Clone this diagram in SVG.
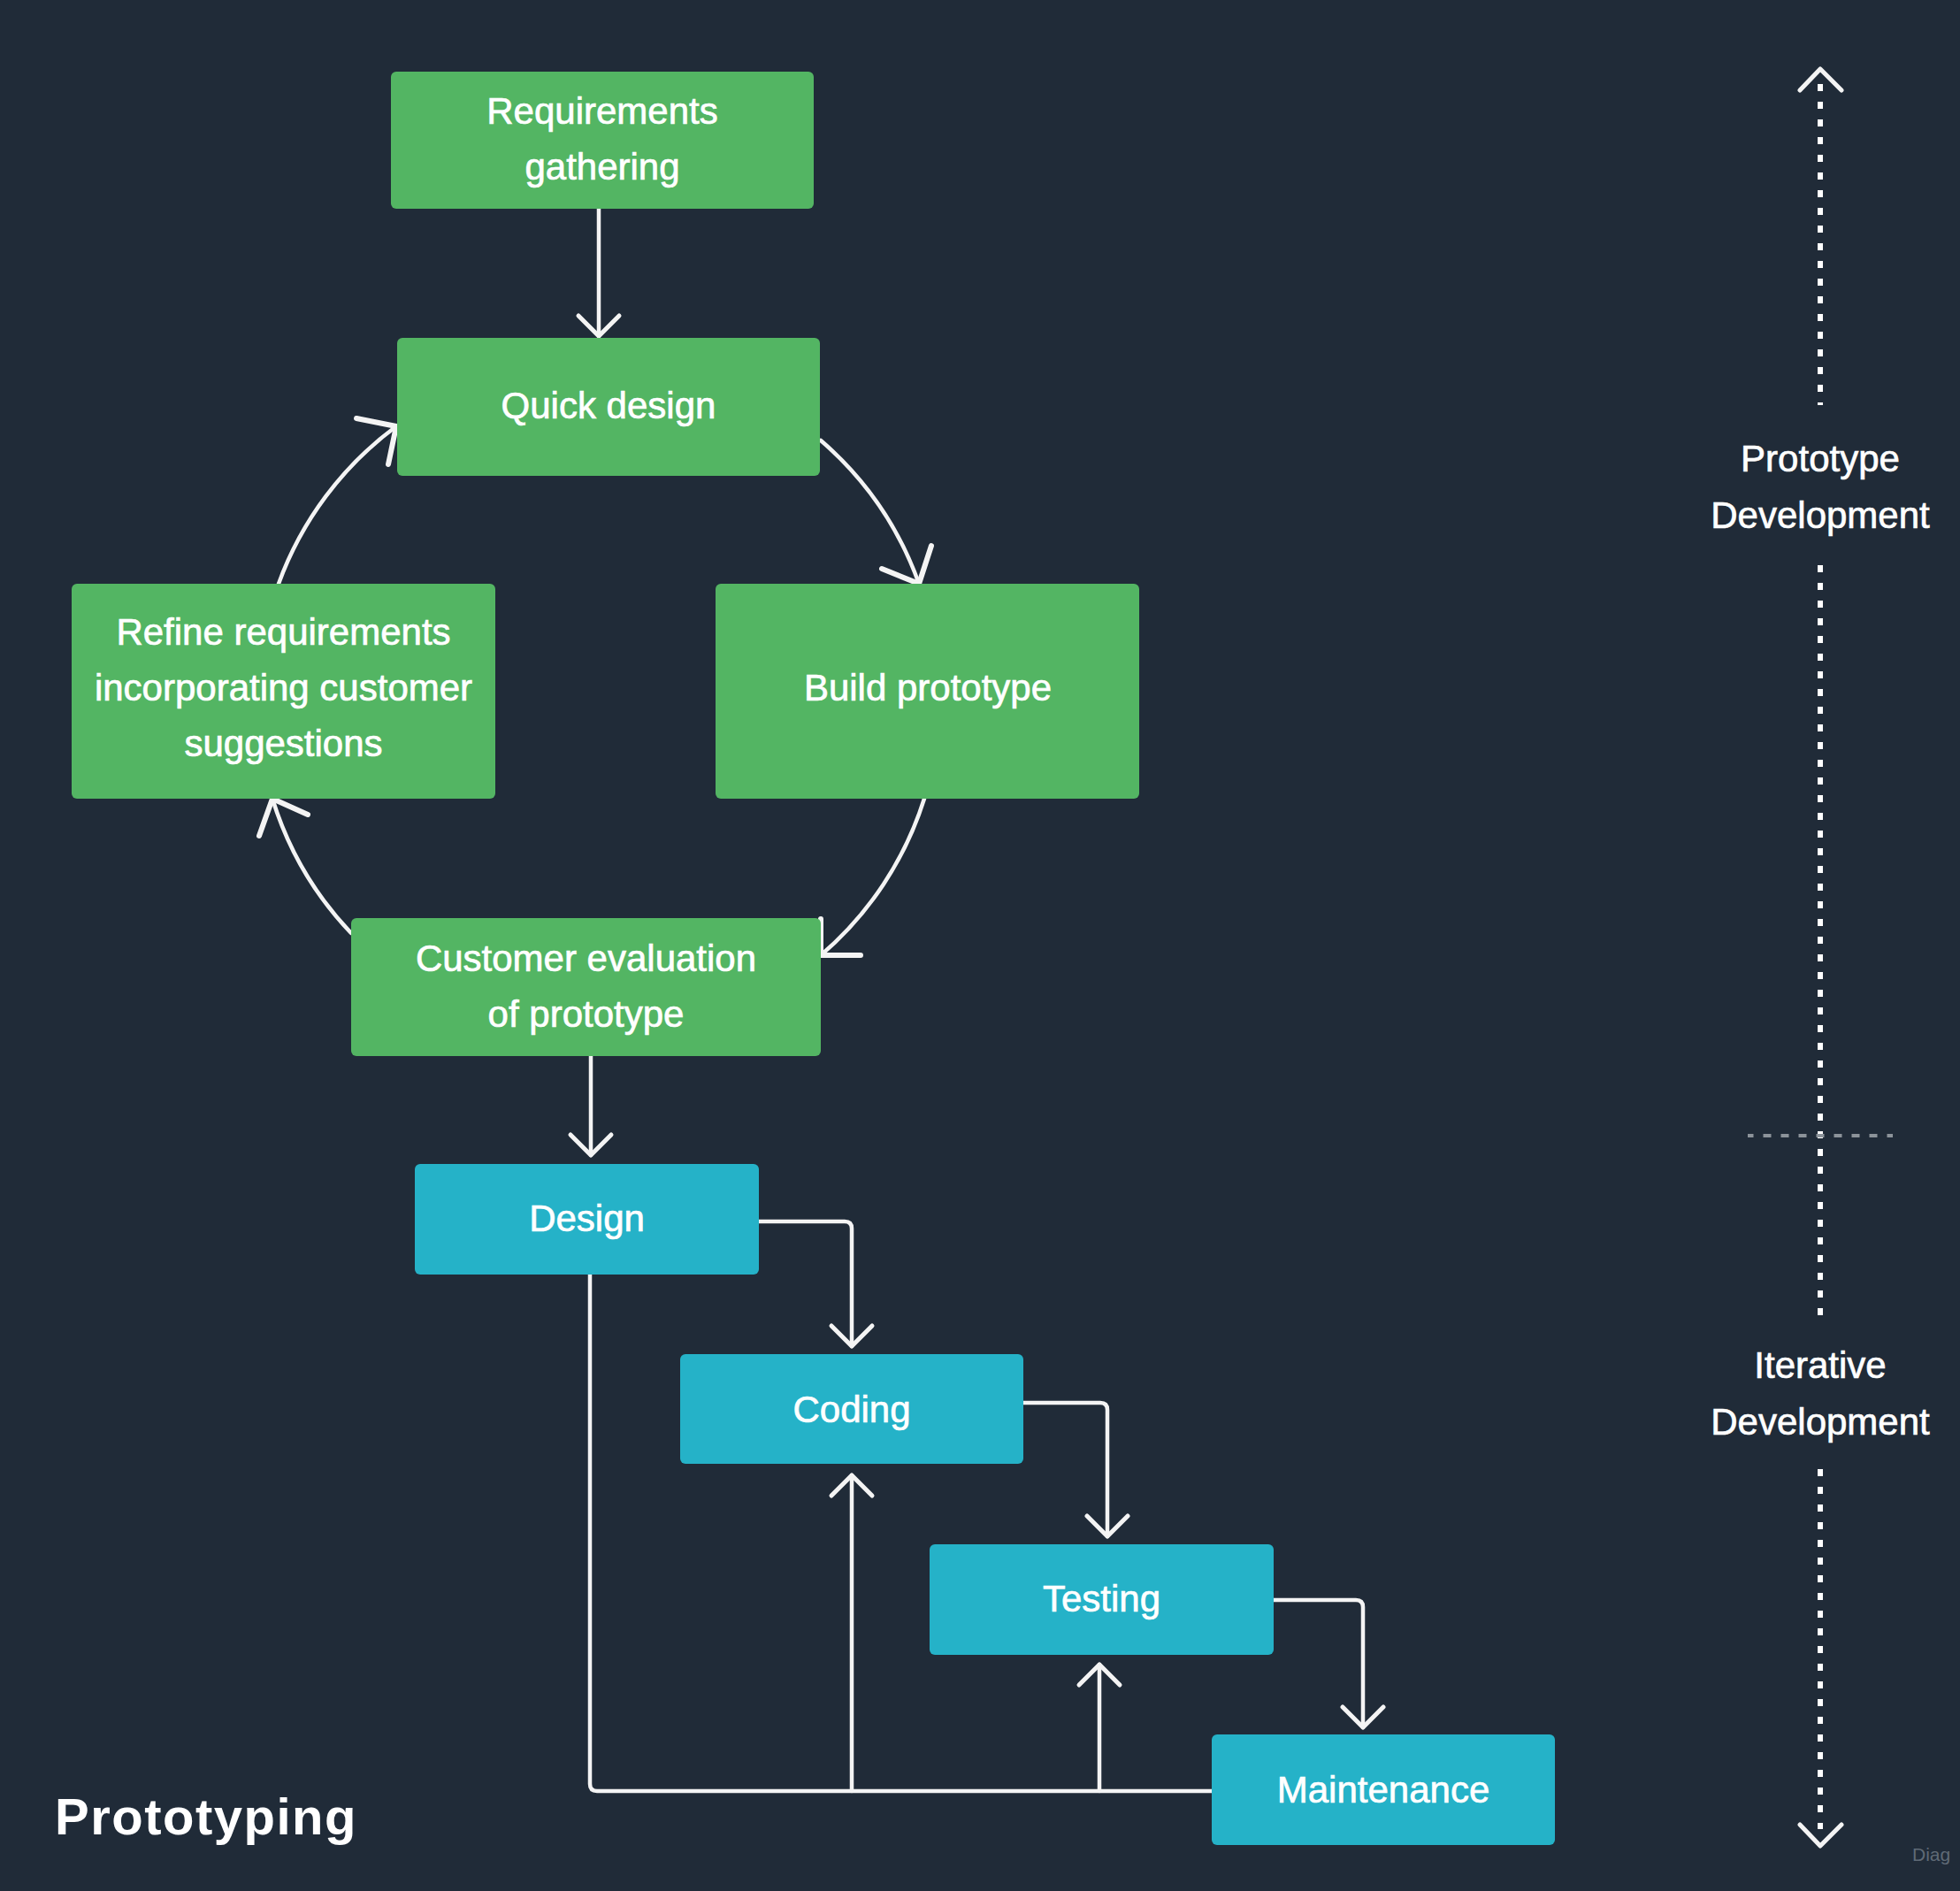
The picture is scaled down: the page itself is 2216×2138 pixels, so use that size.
<svg xmlns="http://www.w3.org/2000/svg" width="2216" height="2138" viewBox="0 0 2216 2138">
<style>
.bg{fill:#202b38}
.g{fill:#53b563}
.t{fill:#25b2c8}
.lbl{font-family:"Liberation Sans",Arial,sans-serif;font-size:42px;fill:#ffffff;stroke:#ffffff;stroke-width:0.7px;text-anchor:middle}
.ln{fill:none;stroke:#f4f4f4;stroke-width:4.5;stroke-linecap:round;stroke-linejoin:round}
.ah{fill:none;stroke:#f4f4f4;stroke-width:6;stroke-linecap:round;stroke-linejoin:round}
.dot{fill:none;stroke:#ffffff;stroke-width:6;stroke-dasharray:8 12}
.dash{fill:none;stroke:#8c939a;stroke-width:4;stroke-dasharray:9 11;stroke-dashoffset:2.5}
</style>
<defs>
<marker id="arr" markerUnits="userSpaceOnUse" markerWidth="60" markerHeight="60" viewBox="-30 -30 60 60" refX="0" refY="0" orient="auto" overflow="visible">
<path d="M -23 -23 L 0 0 L -23 23" fill="none" stroke="#f4f4f4" stroke-width="5" stroke-linecap="round" stroke-linejoin="round"/>
</marker>
</defs>
<rect class="bg" x="0" y="0" width="2216" height="2138"/>

<g id="connectors">
<path class="ln" d="M 677 236 V 380" marker-end="url(#arr)"/>
<path class="ln" d="M 928 498 A 385 385 0 0 1 1039 660"/>
<polyline class="ah" points="997,643 1039,660 1053,617"/>
<path class="ln" d="M 1045 903 A 385 385 0 0 1 928 1080"/>
<polyline class="ah" points="928,1039 928,1080 973,1080"/>
<path class="ln" d="M 397 1055 A 385 385 0 0 1 308 903"/>
<polyline class="ah" points="293,945 308,903 348,921"/>
<path class="ln" d="M 315 660 A 385 385 0 0 1 448 482"/>
<polyline class="ah" points="403,473 448,482 439,525"/>
<path class="ln" d="M 668 1194 V 1306" marker-end="url(#arr)"/>
<path class="ln" d="M 858 1381 H 955 Q 963 1381 963 1389 V 1522" marker-end="url(#arr)"/>
<path class="ln" d="M 1157 1586 H 1244 Q 1252 1586 1252 1594 V 1737" marker-end="url(#arr)"/>
<path class="ln" d="M 1440 1809 H 1533 Q 1541 1809 1541 1817 V 1953" marker-end="url(#arr)"/>
<path class="ln" d="M 1370 2025 H 675 Q 667 2025 667 2017 V 1441"/>
<path class="ln" d="M 963 2025 V 1668" marker-end="url(#arr)"/>
<path class="ln" d="M 1243 2025 V 1882" marker-end="url(#arr)"/>
</g>

<g id="node-requirements">
<rect class="g" x="442" y="81" width="478" height="155" rx="6"/>
<text class="lbl" x="681" y="140">Requirements</text>
<text class="lbl" x="681" y="203">gathering</text>
</g>
<g id="node-quick-design">
<rect class="g" x="449" y="382" width="478" height="156" rx="6"/>
<text class="lbl" x="688" y="473">Quick design</text>
</g>
<g id="node-refine">
<rect class="g" x="81" y="660" width="479" height="243" rx="6"/>
<text class="lbl" x="320.5" y="729">Refine requirements</text>
<text class="lbl" x="320.5" y="792">incorporating customer</text>
<text class="lbl" x="320.5" y="855">suggestions</text>
</g>
<g id="node-build">
<rect class="g" x="809" y="660" width="479" height="243" rx="6"/>
<text class="lbl" x="1049" y="792">Build prototype</text>
</g>
<g id="node-customer">
<rect class="g" x="397" y="1038" width="531" height="156" rx="6"/>
<text class="lbl" x="662.5" y="1098">Customer evaluation</text>
<text class="lbl" x="662.5" y="1161">of prototype</text>
</g>
<g id="node-design">
<rect class="t" x="469" y="1316" width="389" height="125" rx="6"/>
<text class="lbl" x="663.5" y="1392">Design</text>
</g>
<g id="node-coding">
<rect class="t" x="769" y="1531" width="388" height="124" rx="6"/>
<text class="lbl" x="963" y="1608">Coding</text>
</g>
<g id="node-testing">
<rect class="t" x="1051" y="1746" width="389" height="125" rx="6"/>
<text class="lbl" x="1245.5" y="1822">Testing</text>
</g>
<g id="node-maintenance">
<rect class="t" x="1370" y="1961" width="388" height="125" rx="6"/>
<text class="lbl" x="1564" y="2038">Maintenance</text>
</g>

<g id="timeline">
<line class="dot" x1="2058" y1="95" x2="2058" y2="458"/>
<line class="dot" x1="2058" y1="639" x2="2058" y2="1490"/>
<line class="dot" x1="2058" y1="1661" x2="2058" y2="2068"/>
<polyline class="ln" points="2035,102 2058,78 2082,102" style="stroke-width:5"/>
<polyline class="ln" points="2035,2063 2058,2087 2082,2063" style="stroke-width:5"/>
<line class="dash" x1="1976" y1="1284" x2="2140" y2="1284"/>
<text class="lbl" x="2058" y="533">Prototype</text>
<text class="lbl" x="2058" y="597">Development</text>
<text class="lbl" x="2058" y="1558">Iterative</text>
<text class="lbl" x="2058" y="1622">Development</text>
</g>

<text x="62" y="2074" font-family="'Liberation Sans',Arial,sans-serif" font-size="58" font-weight="bold" letter-spacing="1.5" fill="#ffffff">Prototyping</text>
<text x="2162" y="2104" font-family="'Liberation Sans',Arial,sans-serif" font-size="21" fill="#5f6a76">Diag</text>
</svg>
